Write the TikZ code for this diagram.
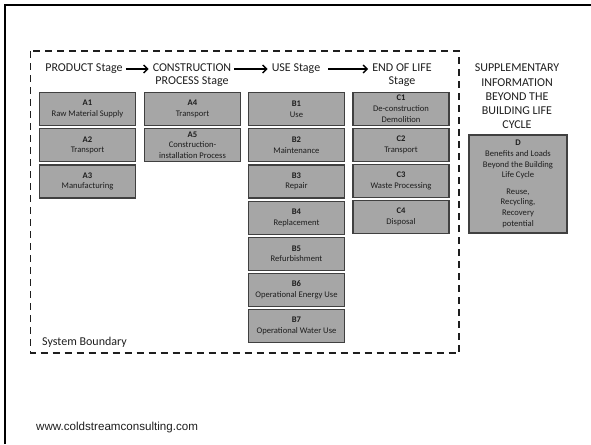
\documentclass[tikz,border=0pt]{standalone}
\usepackage{fontspec}
\setmainfont{Carlito}
\newfontfamily\urlfont{Liberation Sans}
\usetikzlibrary{arrows.meta}
\definecolor{boxfill}{HTML}{A6A6A6}
\definecolor{boxline}{HTML}{404040}
\definecolor{txt}{HTML}{1E1E1E}
\tikzset{
  box/.style={draw=boxline, fill=boxfill, line width=1.2pt, minimum width=96pt, minimum height=33pt,
    inner sep=0pt, align=center, text=txt, font=\fontsize{8.6}{10.6}\selectfont},
  hdr/.style={inner sep=2pt, align=center, text=txt, font=\fontsize{12}{13.2}\selectfont},
  arr/.style={line width=1.4pt, -{Straight Barb[length=4pt,width=8pt,line width=1.4pt]}, shorten <=1pt, shorten >=2pt},
  boundary/.style={line width=1.8pt, dash pattern=on 7pt off 5pt, color=txt}
}
\begin{document}
\begin{tikzpicture}[x=1pt,y=-1pt]
\useasboundingbox (0,0) rectangle (591,444);
% slide frame
\draw[line width=2pt] (5,444) -- (5,5) -- (591,5);
% system boundary
\draw[boundary] (30.5,51) rectangle (459,353);
% headers
\node[hdr] (prod) at (84,69) {PRODUCT Stage};
\node[hdr, anchor=north] (cons) at (192,61.5) {CONSTRUCTION\\PROCESS Stage};
\node[hdr] (use) at (296,69) {USE Stage};
\node[hdr, anchor=north] (eol) at (402,61.5) {END OF LIFE\\Stage};
\node[hdr, font=\fontsize{12}{14.2}\selectfont] (supp) at (517,96.5) {SUPPLEMENTARY\\INFORMATION\\BEYOND THE\\BUILDING LIFE\\CYCLE};
\draw[arr] (prod.east) -- (prod.east -| cons.west);
\draw[arr] (cons.east |- use.west) -- (use.west);
\draw[arr, shorten <=6pt] (use.east) -- (use.east -| eol.west);
% A column
\node[box] (a1) at (87.5,109) {\textbf{A1}\\Raw Material Supply};
\node[box] (a2) at (87.5,145.2) {\textbf{A2}\\Transport};
\node[box] (a3) at (87.5,181.4) {\textbf{A3}\\Manufacturing};
% A4/A5
\node[box] (a4) at (192.5,109) {\textbf{A4}\\Transport};
\node[box] (a5) at (192.5,145.2) {\textbf{A5}\\Construction-\\installation Process};
% B column
\node[box] (b1) at (296.5,109) {\textbf{B1}\\Use};
\node[box] (b2) at (296.5,145.2) {\textbf{B2}\\Maintenance};
\node[box] (b3) at (296.5,181.4) {\textbf{B3}\\Repair};
\node[box] (b4) at (296.5,217.6) {\textbf{B4}\\Replacement};
\node[box] (b5) at (296.5,253.8) {\textbf{B5}\\Refurbishment};
\node[box] (b6) at (296.5,290) {\textbf{B6}\\Operational Energy Use};
\node[box] (b7) at (296.5,326.2) {\textbf{B7}\\Operational Water Use};
% C column
\node[box] (c1) at (401,108.7) {\textbf{C1}\\De-construction\\Demolition};
\node[box] (c2) at (401,144.8) {\textbf{C2}\\Transport};
\node[box] (c3) at (401,180.8) {\textbf{C3}\\Waste Processing};
\node[box] (c4) at (401,216.8) {\textbf{C4}\\Disposal};
% D
\node[box, minimum width=98pt, minimum height=98pt] (d) at (518,184)
  {\textbf{D}\\Benefits and Loads\\Beyond the Building\\Life Cycle\\[6pt]Reuse,\\Recycling,\\Recovery\\potential};
% labels
\node[hdr, anchor=west, inner sep=0pt] (sb) at (42,342) {System Boundary};
\node[anchor=west, inner sep=0pt, font=\urlfont\fontsize{11.6}{13}\selectfont, text=txt] (url) at (36,427) {www.coldstreamconsulting.com};
\end{tikzpicture}
\end{document}
